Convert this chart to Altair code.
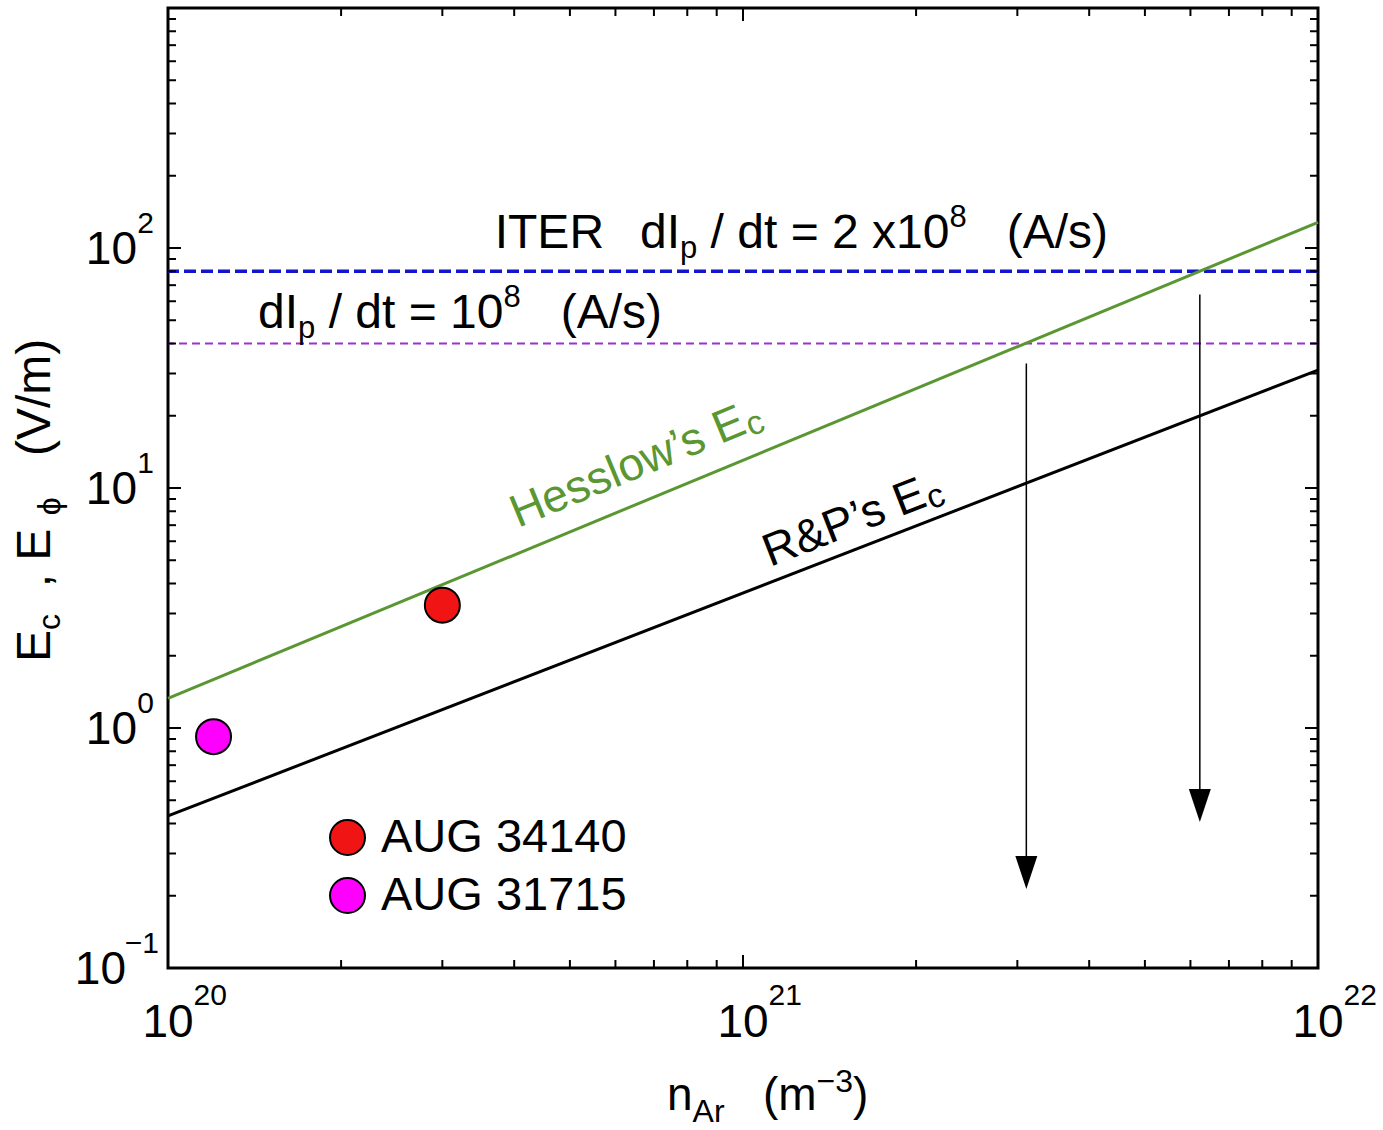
import altair as alt
import pandas as pd

FONT = "Liberation Sans"

# ---------------- data ----------------
n_ends = [1e20, 1e22]            # n_Ar (m^-3) end points of the two E_c lines
hesslow_Ec = [1.33, 128.0]       # Hesslow's E_c (V/m)
rp_Ec = [0.43, 31.0]             # R&P's E_c (V/m)

E_phi_fast = [80.0]              # ITER dIp/dt = 2x10^8 A/s
E_phi_slow = [40.0]              # dIp/dt = 10^8 A/s

shot_names = ["AUG 34140", "AUG 31715"]
shot_n = [3.0e20, 1.2e20]
shot_E = [3.25, 0.92]
shot_colors = ["#f01414", "#ff00ff"]

arrow_n = [3.11e21, 6.23e21]
arrow_from = [33.0, 64.0]
arrow_to = [0.25, 0.475]

x_major = [1e20, 1e21, 1e22]
x_exp = ["20", "21", "22"]
y_major = [0.1, 1.0, 10.0, 100.0, 1000.0]
y_lab_vals = [1.0, 10.0, 100.0]
y_lab_exp = ["0", "1", "2"]
y_lab_neg_vals = [0.1]
y_lab_neg_exp = ["\u22121"]
minor_mult = [2, 3, 4, 5, 6, 7, 8, 9]

X_DOMAIN = [1e20, 1e22]
Y_DOMAIN = [0.1, 1000.0]

# annotation anchors (data coordinates)
iter_at = (3.70e20, 100.0)
fast_at = (6.62e20, 100.0)
slow_at = (1.434e20, 46.4)
hess_at = (4.06e20, 6.81)
rp_at = (1.114e21, 4.69)

# ---------------- helpers ----------------
XS = alt.Scale(type="log", domain=X_DOMAIN, nice=False)
YS = alt.Scale(type="log", domain=Y_DOMAIN, nice=False)


def X(f):
    return alt.X(f, type="quantitative", scale=XS, axis=None)


def Y(f):
    return alt.Y(f, type="quantitative", scale=YS, axis=None)


ADV = {" ": 278, "(": 333, ")": 333, "/": 278, "=": 584, "x": 500, "d": 556,
       "t": 278, "I": 278, "p": 556, "A": 667, "s": 500, "n": 556, "r": 333,
       "m": 833, "V": 667, "E": 667, "c": 500, "T": 611, "R": 722, "G": 778,
       "U": 722, ",": 278, "\u2212": 584, "\u03d5": 600, "H": 722, "e": 556,
       "l": 222, "o": 556, "w": 722, "\u2019": 222, "&": 667, "P": 667}


def tw(s, size):
    return sum(ADV.get(ch, 556) for ch in s) * size / 1000.0


def pieces(parts, at=None, px=None, angle=0, color="black"):
    """Lay out text pieces (with sub/superscripts) one after another."""
    out = []
    off = 0.0
    for txt, size, dy in parts:
        lead = len(txt) - len(txt.lstrip(" "))
        shown = txt.strip(" ")
        start = off + tw(" " * lead, size)
        df = pd.DataFrame({"x": [at[0] if at else 1.0], "y": [at[1] if at else 1.0], "t": [shown]})
        ch = alt.Chart(df).mark_text(align="left", baseline="alphabetic", font=FONT,
                                     fontSize=size, dx=round(start, 2), dy=dy,
                                     angle=angle, color=color)
        if at is not None:
            ch = ch.encode(x=X("x"), y=Y("y"), text="t:N")
        else:
            ch = ch.encode(x=alt.value(px[0]), y=alt.value(px[1]), text="t:N")
        out.append(ch)
        off += tw(txt, size)
    return out


layers = []

# horizontal E_phi levels
layers.append(alt.Chart(pd.DataFrame({"E": E_phi_slow})).mark_rule(
    color="#9933cc", strokeWidth=2, strokeDash=[8, 5]).encode(y=Y("E")))
layers.append(alt.Chart(pd.DataFrame({"E": E_phi_fast})).mark_rule(
    color="#1414cc", strokeWidth=3.5, strokeDash=[12, 5]).encode(y=Y("E")))

# E_c lines
layers.append(alt.Chart(pd.DataFrame({"n": n_ends, "E": hesslow_Ec})).mark_line(
    color="#5a9632", strokeWidth=3).encode(x=X("n"), y=Y("E")))
layers.append(alt.Chart(pd.DataFrame({"n": n_ends, "E": rp_Ec})).mark_line(
    color="black", strokeWidth=3).encode(x=X("n"), y=Y("E")))

# arrows
adf = pd.DataFrame({"n": arrow_n, "a": arrow_from, "b": arrow_to})
layers.append(alt.Chart(adf).mark_rule(color="black", strokeWidth=1.5).encode(
    x=X("n"), y=Y("a"), y2="b"))
layers.append(alt.Chart(adf).mark_point(
    shape="M-0.667,-1L0.667,-1L0,1Z", filled=True, color="black", size=1089,
    opacity=1).encode(x=X("n"), y=Y("b")))

# measured shots with legend
sdf = pd.DataFrame({"shot": shot_names, "n": shot_n, "E": shot_E})
layers.append(alt.Chart(sdf).mark_point(
    shape="circle", filled=True, size=1225, stroke="black", strokeWidth=2,
    opacity=1).encode(
    x=X("n"), y=Y("E"),
    color=alt.Color("shot:N", scale=alt.Scale(domain=shot_names, range=shot_colors),
                    legend=alt.Legend(orient="none", legendX=156, legendY=806,
                                      title=None, labelFont=FONT, labelFontSize=47,
                                      labelColor="black", symbolSize=1225,
                                      symbolType="circle", symbolStrokeColor="black",
                                      symbolStrokeWidth=2, symbolOpacity=1,
                                      labelOffset=10, rowPadding=10, padding=0,
                                      labelLimit=500))))

# ticks (inward, clipped to the frame)
vt = []
for v in x_major:
    for yy in Y_DOMAIN:
        vt.append({"x": v, "y": yy, "len": 26})
for e in (20, 21):
    for k in minor_mult:
        for yy in Y_DOMAIN:
            vt.append({"x": k * 10.0 ** e, "y": yy, "len": 16})
layers.append(alt.Chart(pd.DataFrame(vt)).mark_tick(
    orient="vertical", clip=True, thickness=2, color="black", opacity=1).encode(
    x=X("x"), y=Y("y"), size=alt.Size("len:Q", scale=None)))

ht = []
for v in y_major:
    for xx in X_DOMAIN:
        ht.append({"x": xx, "y": v, "len": 26})
for e in (-1, 0, 1, 2):
    for k in minor_mult:
        for xx in X_DOMAIN:
            ht.append({"x": xx, "y": k * 10.0 ** e, "len": 16})
layers.append(alt.Chart(pd.DataFrame(ht)).mark_tick(
    orient="horizontal", clip=True, thickness=2, color="black", opacity=1).encode(
    x=X("x"), y=Y("y"), size=alt.Size("len:Q", scale=None)))

# tick labels
xl = pd.DataFrame({"x": x_major, "y": [Y_DOMAIN[0]] * 3, "b": ["10"] * 3, "e": x_exp})
layers.append(alt.Chart(xl).mark_text(align="center", baseline="alphabetic", font=FONT,
                                      fontSize=46, dy=69, color="black").encode(
    x=X("x"), y=Y("y"), text="b:N"))
layers.append(alt.Chart(xl).mark_text(align="left", baseline="alphabetic", font=FONT,
                                      fontSize=30, dx=25.6, dy=37, color="black").encode(
    x=X("x"), y=Y("y"), text="e:N"))

yl = pd.DataFrame({"x": [X_DOMAIN[0]] * 3, "y": y_lab_vals, "b": ["10"] * 3, "e": y_lab_exp})
layers.append(alt.Chart(yl).mark_text(align="right", baseline="alphabetic", font=FONT,
                                      fontSize=46, dx=-31, dy=16, color="black").encode(
    x=X("x"), y=Y("y"), text="b:N"))
layers.append(alt.Chart(yl).mark_text(align="right", baseline="alphabetic", font=FONT,
                                      fontSize=30, dx=-14, dy=-15, color="black").encode(
    x=X("x"), y=Y("y"), text="e:N"))
yn = pd.DataFrame({"x": [X_DOMAIN[0]], "y": y_lab_neg_vals, "b": ["10"], "e": y_lab_neg_exp})
layers.append(alt.Chart(yn).mark_text(align="right", baseline="alphabetic", font=FONT,
                                      fontSize=46, dx=-42, dy=16, color="black").encode(
    x=X("x"), y=Y("y"), text="b:N"))
layers.append(alt.Chart(yn).mark_text(align="right", baseline="alphabetic", font=FONT,
                                      fontSize=30, dx=-9, dy=-15, color="black").encode(
    x=X("x"), y=Y("y"), text="e:N"))

# annotations
layers += pieces([("ITER", 48, 0)], at=iter_at)
layers += pieces([("dI", 48, 0), ("p", 31, 10), (" / dt = 2 x10", 48, 0),
                  ("8", 31, -21), ("   (A/s)", 48, 0)], at=fast_at)
layers += pieces([("dI", 48, 0), ("p", 31, 10), (" / dt = 10", 48, 0),
                  ("8", 31, -21), ("   (A/s)", 48, 0)], at=slow_at)
layers += pieces([("Hesslow\u2019s E", 46, 0), ("c", 34, 5)], at=hess_at,
                 angle=337.5, color="#5a9632")
layers += pieces([("R&P\u2019s E", 46, 0), ("c", 34, 5)], at=rp_at, angle=338.8)

# axis titles
layers += pieces([("n", 46, 0), ("Ar", 32, 12), ("   (m", 46, 0),
                  ("\u22123", 32, -18), (")", 46, 0)], px=(499, 1102))
layers += pieces([("E", 48, 0), ("c", 32, 10), ("  ,  E", 48, 0),
                  ("\u03d5", 32, 10), ("   (V/m)", 48, 0)], px=(-118, 654), angle=270)

chart = alt.layer(*layers).properties(
    width=1150, height=960,
    autosize=alt.AutoSizeParams(type="none"),
    padding={"left": 168, "top": 8, "right": 65, "bottom": 162},
    background="white",
).configure_view(stroke="black", strokeWidth=3)

chart.save("out.html", embed_options={"renderer": "svg", "actions": False})
